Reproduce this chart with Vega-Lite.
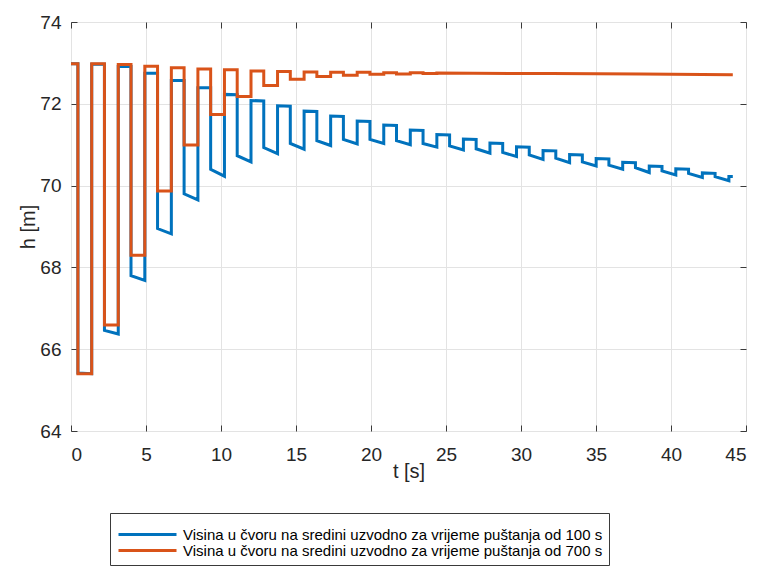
{
  "$schema": "https://vega.github.io/schema/vega-lite/v6.json",
  "width": 675,
  "height": 409,
  "autosize": {"type": "none"},
  "padding": {"left": 71, "top": 22, "right": 15, "bottom": 136},
  "background": "white",
  "config": {
    "font": "Liberation Sans",
    "view": {"stroke": "#3a3a3a", "strokeWidth": 1}
  },
  "data": {
    "values": [
      {"s": "100 s", "t": 0, "h": 72.98}, {"s": "100 s", "t": 0.46, "h": 72.98},
      {"s": "100 s", "t": 0.46, "h": 65.42}, {"s": "100 s", "t": 1.38, "h": 65.40},
      {"s": "100 s", "t": 1.38, "h": 72.97}, {"s": "100 s", "t": 2.23, "h": 72.97},
      {"s": "100 s", "t": 2.23, "h": 66.46}, {"s": "100 s", "t": 3.15, "h": 66.37},
      {"s": "100 s", "t": 3.15, "h": 72.91}, {"s": "100 s", "t": 4.00, "h": 72.91},
      {"s": "100 s", "t": 4.00, "h": 67.80}, {"s": "100 s", "t": 4.92, "h": 67.68},
      {"s": "100 s", "t": 4.92, "h": 72.75}, {"s": "100 s", "t": 5.77, "h": 72.75},
      {"s": "100 s", "t": 5.77, "h": 68.95}, {"s": "100 s", "t": 6.69, "h": 68.82},
      {"s": "100 s", "t": 6.69, "h": 72.57}, {"s": "100 s", "t": 7.54, "h": 72.57},
      {"s": "100 s", "t": 7.54, "h": 69.80}, {"s": "100 s", "t": 8.46, "h": 69.65},
      {"s": "100 s", "t": 8.46, "h": 72.39}, {"s": "100 s", "t": 9.31, "h": 72.39},
      {"s": "100 s", "t": 9.31, "h": 70.40}, {"s": "100 s", "t": 10.23, "h": 70.23},
      {"s": "100 s", "t": 10.23, "h": 72.23}, {"s": "100 s", "t": 11.08, "h": 72.22},
      {"s": "100 s", "t": 11.08, "h": 70.73}, {"s": "100 s", "t": 12.00, "h": 70.58},
      {"s": "100 s", "t": 12.00, "h": 72.08}, {"s": "100 s", "t": 12.85, "h": 72.07},
      {"s": "100 s", "t": 12.85, "h": 70.93}, {"s": "100 s", "t": 13.77, "h": 70.78},
      {"s": "100 s", "t": 13.77, "h": 71.95}, {"s": "100 s", "t": 14.62, "h": 71.94},
      {"s": "100 s", "t": 14.62, "h": 71.03}, {"s": "100 s", "t": 15.54, "h": 70.89},
      {"s": "100 s", "t": 15.54, "h": 71.82}, {"s": "100 s", "t": 16.39, "h": 71.81},
      {"s": "100 s", "t": 16.39, "h": 71.10}, {"s": "100 s", "t": 17.31, "h": 70.98},
      {"s": "100 s", "t": 17.31, "h": 71.70}, {"s": "100 s", "t": 18.16, "h": 71.69},
      {"s": "100 s", "t": 18.16, "h": 71.13}, {"s": "100 s", "t": 19.08, "h": 71.02},
      {"s": "100 s", "t": 19.08, "h": 71.58}, {"s": "100 s", "t": 19.93, "h": 71.57},
      {"s": "100 s", "t": 19.93, "h": 71.13}, {"s": "100 s", "t": 20.85, "h": 71.03},
      {"s": "100 s", "t": 20.85, "h": 71.48}, {"s": "100 s", "t": 21.70, "h": 71.47},
      {"s": "100 s", "t": 21.70, "h": 71.10}, {"s": "100 s", "t": 22.62, "h": 71.00},
      {"s": "100 s", "t": 22.62, "h": 71.36}, {"s": "100 s", "t": 23.47, "h": 71.35},
      {"s": "100 s", "t": 23.47, "h": 71.03}, {"s": "100 s", "t": 24.39, "h": 70.94},
      {"s": "100 s", "t": 24.39, "h": 71.25}, {"s": "100 s", "t": 25.24, "h": 71.24},
      {"s": "100 s", "t": 25.24, "h": 70.97}, {"s": "100 s", "t": 26.16, "h": 70.87},
      {"s": "100 s", "t": 26.16, "h": 71.14}, {"s": "100 s", "t": 27.01, "h": 71.13},
      {"s": "100 s", "t": 27.01, "h": 70.90}, {"s": "100 s", "t": 27.93, "h": 70.79},
      {"s": "100 s", "t": 27.93, "h": 71.04}, {"s": "100 s", "t": 28.78, "h": 71.03},
      {"s": "100 s", "t": 28.78, "h": 70.81}, {"s": "100 s", "t": 29.70, "h": 70.71},
      {"s": "100 s", "t": 29.70, "h": 70.95}, {"s": "100 s", "t": 30.55, "h": 70.94},
      {"s": "100 s", "t": 30.55, "h": 70.75}, {"s": "100 s", "t": 31.47, "h": 70.64},
      {"s": "100 s", "t": 31.47, "h": 70.86}, {"s": "100 s", "t": 32.32, "h": 70.85},
      {"s": "100 s", "t": 32.32, "h": 70.67}, {"s": "100 s", "t": 33.24, "h": 70.56},
      {"s": "100 s", "t": 33.24, "h": 70.76}, {"s": "100 s", "t": 34.09, "h": 70.75},
      {"s": "100 s", "t": 34.09, "h": 70.58}, {"s": "100 s", "t": 35.01, "h": 70.48},
      {"s": "100 s", "t": 35.01, "h": 70.66}, {"s": "100 s", "t": 35.86, "h": 70.65},
      {"s": "100 s", "t": 35.86, "h": 70.50}, {"s": "100 s", "t": 36.78, "h": 70.40},
      {"s": "100 s", "t": 36.78, "h": 70.57}, {"s": "100 s", "t": 37.63, "h": 70.56},
      {"s": "100 s", "t": 37.63, "h": 70.44}, {"s": "100 s", "t": 38.55, "h": 70.32},
      {"s": "100 s", "t": 38.55, "h": 70.48}, {"s": "100 s", "t": 39.40, "h": 70.47},
      {"s": "100 s", "t": 39.40, "h": 70.36}, {"s": "100 s", "t": 40.32, "h": 70.26},
      {"s": "100 s", "t": 40.32, "h": 70.41}, {"s": "100 s", "t": 41.17, "h": 70.40},
      {"s": "100 s", "t": 41.17, "h": 70.30}, {"s": "100 s", "t": 42.09, "h": 70.20},
      {"s": "100 s", "t": 42.09, "h": 70.31}, {"s": "100 s", "t": 42.94, "h": 70.30},
      {"s": "100 s", "t": 42.94, "h": 70.22}, {"s": "100 s", "t": 43.86, "h": 70.12},
      {"s": "100 s", "t": 43.86, "h": 70.22}, {"s": "100 s", "t": 44.12, "h": 70.22},

      {"s": "700 s", "t": 0, "h": 72.98}, {"s": "700 s", "t": 0.46, "h": 72.98},
      {"s": "700 s", "t": 0.46, "h": 65.40}, {"s": "700 s", "t": 1.38, "h": 65.40},
      {"s": "700 s", "t": 1.38, "h": 72.98}, {"s": "700 s", "t": 2.23, "h": 72.98},
      {"s": "700 s", "t": 2.23, "h": 66.59}, {"s": "700 s", "t": 3.15, "h": 66.59},
      {"s": "700 s", "t": 3.15, "h": 72.96}, {"s": "700 s", "t": 4.00, "h": 72.96},
      {"s": "700 s", "t": 4.00, "h": 68.30}, {"s": "700 s", "t": 4.92, "h": 68.30},
      {"s": "700 s", "t": 4.92, "h": 72.92}, {"s": "700 s", "t": 5.77, "h": 72.92},
      {"s": "700 s", "t": 5.77, "h": 69.87}, {"s": "700 s", "t": 6.69, "h": 69.87},
      {"s": "700 s", "t": 6.69, "h": 72.88}, {"s": "700 s", "t": 7.54, "h": 72.88},
      {"s": "700 s", "t": 7.54, "h": 70.99}, {"s": "700 s", "t": 8.46, "h": 70.99},
      {"s": "700 s", "t": 8.46, "h": 72.85}, {"s": "700 s", "t": 9.31, "h": 72.85},
      {"s": "700 s", "t": 9.31, "h": 71.74}, {"s": "700 s", "t": 10.23, "h": 71.74},
      {"s": "700 s", "t": 10.23, "h": 72.83}, {"s": "700 s", "t": 11.08, "h": 72.83},
      {"s": "700 s", "t": 11.08, "h": 72.18}, {"s": "700 s", "t": 12.00, "h": 72.18},
      {"s": "700 s", "t": 12.00, "h": 72.80}, {"s": "700 s", "t": 12.85, "h": 72.80},
      {"s": "700 s", "t": 12.85, "h": 72.45}, {"s": "700 s", "t": 13.77, "h": 72.45},
      {"s": "700 s", "t": 13.77, "h": 72.79}, {"s": "700 s", "t": 14.62, "h": 72.79},
      {"s": "700 s", "t": 14.62, "h": 72.60}, {"s": "700 s", "t": 15.54, "h": 72.60},
      {"s": "700 s", "t": 15.54, "h": 72.78}, {"s": "700 s", "t": 16.39, "h": 72.78},
      {"s": "700 s", "t": 16.39, "h": 72.67}, {"s": "700 s", "t": 17.31, "h": 72.67},
      {"s": "700 s", "t": 17.31, "h": 72.77}, {"s": "700 s", "t": 18.16, "h": 72.77},
      {"s": "700 s", "t": 18.16, "h": 72.70}, {"s": "700 s", "t": 19.08, "h": 72.70},
      {"s": "700 s", "t": 19.08, "h": 72.77}, {"s": "700 s", "t": 19.93, "h": 72.77},
      {"s": "700 s", "t": 19.93, "h": 72.72}, {"s": "700 s", "t": 20.85, "h": 72.72},
      {"s": "700 s", "t": 20.85, "h": 72.76}, {"s": "700 s", "t": 21.70, "h": 72.76},
      {"s": "700 s", "t": 21.70, "h": 72.73}, {"s": "700 s", "t": 22.62, "h": 72.73},
      {"s": "700 s", "t": 22.62, "h": 72.76}, {"s": "700 s", "t": 23.47, "h": 72.76},
      {"s": "700 s", "t": 23.47, "h": 72.74}, {"s": "700 s", "t": 24.39, "h": 72.74},
      {"s": "700 s", "t": 24.39, "h": 72.75}, {"s": "700 s", "t": 32.0, "h": 72.74},
      {"s": "700 s", "t": 38.0, "h": 72.73}, {"s": "700 s", "t": 44.12, "h": 72.71}
    ]
  },
  "layer": [
    {
      "mark": {"type": "line", "strokeWidth": 3, "strokeJoin": "miter", "clip": true},
      "encoding": {
        "x": {
          "field": "t", "type": "quantitative",
          "scale": {"domain": [0, 45], "nice": false, "zero": false},
          "axis": {
            "values": [0, 5, 10, 15, 20, 25, 30, 35, 40, 45],
            "title": "t [s]", "grid": true, "gridColor": "#e3e3e3",
            "domain": false, "ticks": true, "tickSize": -6, "tickColor": "#3a3a3a",
            "labelFontSize": 19, "labelColor": "#262626", "labelPadding": 20,
            "titleFontSize": 20, "titleFontWeight": "normal", "titleColor": "#262626", "titlePadding": -3
          }
        },
        "y": {
          "field": "h", "type": "quantitative",
          "scale": {"domain": [64, 74], "nice": false, "zero": false},
          "axis": {
            "values": [64, 66, 68, 70, 72, 74],
            "title": "h [m]", "grid": true, "gridColor": "#e3e3e3",
            "domain": false, "ticks": true, "tickSize": -6, "tickColor": "#3a3a3a",
            "labelFontSize": 19, "labelColor": "#262626", "labelPadding": 16,
            "titleFontSize": 20, "titleFontWeight": "normal", "titleColor": "#262626", "titlePadding": 1
          }
        },
        "color": {
          "field": "s", "type": "nominal",
          "scale": {"domain": ["100 s", "700 s"], "range": ["#0072BD", "#D95319"]},
          "legend": {
            "orient": "none", "legendX": 39, "legendY": 491,
            "title": " ", "titleFontSize": 1, "titlePadding": 7,
            "symbolType": "M-5.8,0H5.8", "symbolSize": 100, "symbolStrokeWidth": 3,
            "symbolOffset": 24,
            "labelFontSize": 15, "labelColor": "#000000", "labelLimit": 0, "labelOffset": 28,
            "labelExpr": "'Visina u čvoru na sredini uzvodno za vrijeme puštanja od ' + datum.label",
            "padding": 6, "rowPadding": 0, "strokeColor": "#3a3a3a", "fillColor": "#ffffff"
          }
        },
        "order": {"value": null}
      }
    },
    {
      "mark": {"type": "line", "strokeOpacity": 0},
      "encoding": {
        "x": {
          "field": "t", "type": "quantitative",
          "axis": {
            "orient": "top", "values": [0, 5, 10, 15, 20, 25, 30, 35, 40, 45],
            "labels": false, "title": null, "grid": false, "domain": false,
            "ticks": true, "tickSize": -6, "tickColor": "#3a3a3a"
          }
        },
        "y": {
          "field": "h", "type": "quantitative",
          "axis": {
            "orient": "right", "values": [64, 66, 68, 70, 72, 74],
            "labels": false, "title": null, "grid": false, "domain": false,
            "ticks": true, "tickSize": -6, "tickColor": "#3a3a3a"
          }
        },
        "order": {"value": null}
      }
    }
  ],
  "resolve": {"axis": {"x": "independent", "y": "independent"}}
}
